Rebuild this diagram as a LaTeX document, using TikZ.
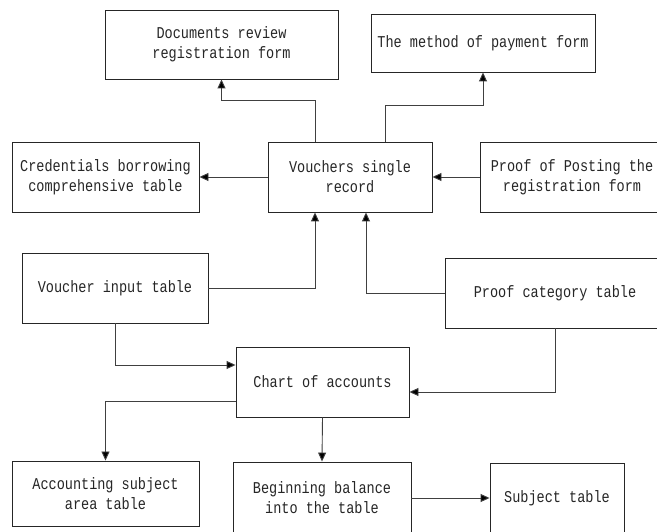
\documentclass[tikz,border=0pt]{standalone}
\usepackage{fontspec}
\setmainfont{Liberation Mono}[FakeStretch=0.82]
\usetikzlibrary{arrows.meta}
\begin{document}
\begin{tikzpicture}[x=1pt, y=1pt,
        tbl/.style={draw=black!85, rectangle, line width=0.9pt, align=center, inner sep=0pt,
            text=black!85, font=\fontsize{16.5}{20}\selectfont},
        arr/.style={draw=black!75, line width=0.9pt, -{Triangle[length=9pt, width=8pt, fill=black]}}]
        \clip (0, 0) rectangle (657, 531);
        \fill[white] (0, 0) rectangle (657, 531);
        \node[tbl, minimum width=233pt, minimum height=69pt] (boxDocs) at (221.5, 486.5) {Documents review\\registration form};
        \node[tbl, minimum width=224pt, minimum height=58pt] (boxPay) at (483, 488) {The method of payment form};
        \node[tbl, minimum width=187pt, minimum height=70pt] (boxCred) at (105.5, 354) {Credentials borrowing\\comprehensive table};
        \node[tbl, minimum width=164pt, minimum height=70pt] (boxVouch) at (350, 354) {Vouchers single\\record};
        \node[tbl, minimum width=184pt, minimum height=70pt] (boxPost) at (572, 354) {Proof of Posting the\\registration form};
        \node[tbl, minimum width=186pt, minimum height=70pt] (boxInput) at (115, 243) {Voucher input table};
        \node[tbl, minimum width=220pt, minimum height=70pt] (boxCat) at (555, 238) {Proof category table};
        \node[tbl, minimum width=173pt, minimum height=70pt] (boxChart) at (322.5, 149) {Chart of accounts};
        \node[tbl, minimum width=187pt, minimum height=65pt] (boxAcc) at (105.5, 37.5) {Accounting subject\\area table};
        \node[tbl, minimum width=178pt, minimum height=72pt] (boxBegin) at (322, 33) {Beginning balance\\into the table};
        \node[tbl, minimum width=134pt, minimum height=70pt] (boxSubj) at (557, 33) {Subject table};
        % around the single record
        \draw[arr] ([xshift=-35pt]boxVouch.north) -- ++(0, 41) -| (boxDocs.south);
        \draw[arr] ([xshift=35pt]boxVouch.north) -- ++(0, 36) -| (boxPay.south);
        \draw[arr] (boxVouch.west) -- (boxCred.east);
        \draw[arr] (boxPost.west) -- (boxVouch.east);
        \draw[arr] (boxInput.east) -| ([xshift=-35pt]boxVouch.south);
        \draw[arr] (boxCat.west) -| ([xshift=16pt]boxVouch.south);
        % chart of accounts
        \draw[arr] (boxInput.south) |- ([yshift=17pt]boxChart.west);
        \draw[arr] (boxCat.south) |- ([yshift=-10pt]boxChart.east);
        \draw[arr] ([yshift=-19pt]boxChart.west) -| (boxAcc.north);
        \draw[arr] (boxChart.south) -- (boxBegin.north);
        \draw[arr] (boxBegin.east) -- (boxSubj.west);
    \end{tikzpicture}
\end{document}
